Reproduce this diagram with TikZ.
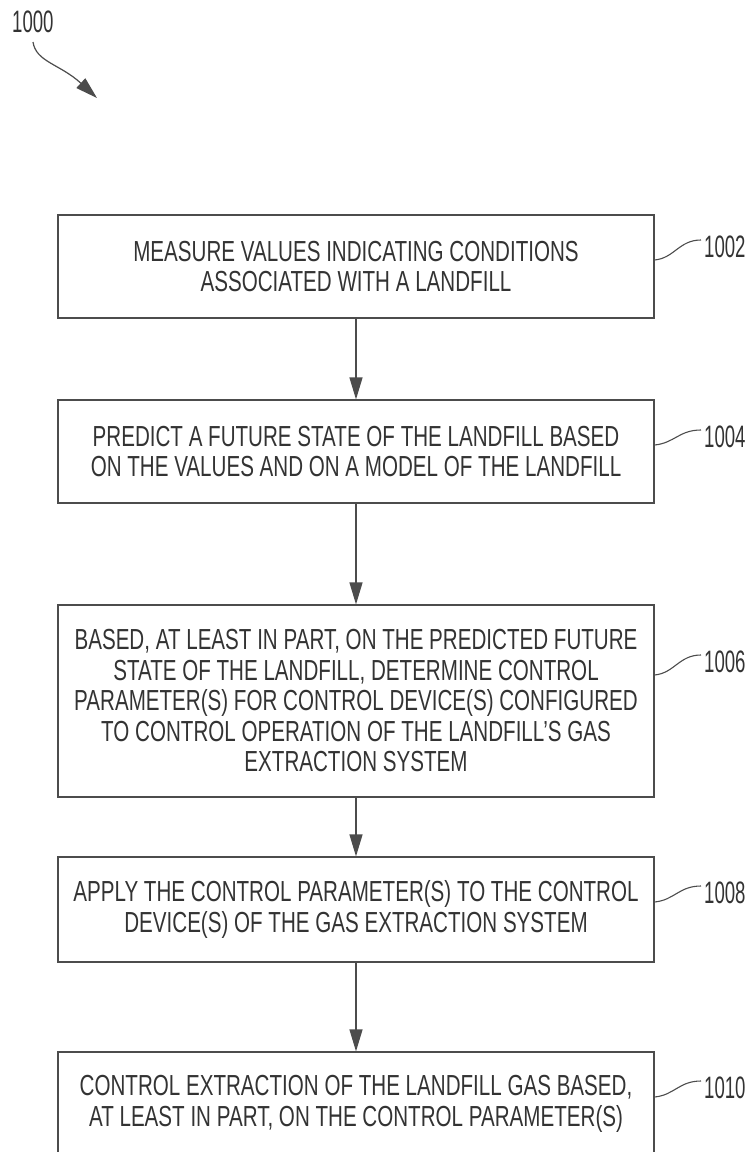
\documentclass[tikz,border=0pt]{standalone}
\usepackage{fontspec}
\setmainfont[FakeStretch=0.71]{Liberation Sans}
\newfontfamily\numfont[FakeStretch=0.60]{Liberation Sans}
\usetikzlibrary{arrows.meta}
\begin{document}
\begin{tikzpicture}[x=1pt,y=-1pt,
  stepbox/.style={draw=black!70, line width=1.2pt, rectangle, minimum width=596pt,
    align=center, inner sep=0pt, font=\fontsize{29}{30.5}\selectfont, text=black!80},
  flow/.style={draw=black!70, line width=1.2pt, -{Triangle[length=22pt,width=13pt]}},
  leader/.style={draw=black!70, line width=1.1pt},
  reflabel/.style={font=\numfont\fontsize{31}{31}\selectfont, text=black!80, anchor=west, inner sep=0pt}]
\useasboundingbox (0,0) rectangle (753,1152);
\clip (0,0) rectangle (753,1152);

% figure label
\node[reflabel] (l1000) at (12,21.5) {1000};
\coordinate (a0) at (33,42);
\coordinate (a1) at (97,98);
\draw[flow] (a0) .. controls (36,62) and (60,64) .. (a1);

% boxes
\node[stepbox, minimum height=103pt] (b1) at (356,266.5)
  {MEASURE VALUES INDICATING CONDITIONS\\ASSOCIATED WITH A LANDFILL};
\node[stepbox, minimum height=103pt] (b2) at (356,451.5)
  {PREDICT A FUTURE STATE OF THE LANDFILL BASED\\ON THE VALUES AND ON A MODEL OF THE LANDFILL};
\node[stepbox, minimum height=192pt] (b3) at (356,701)
  {BASED, AT LEAST IN PART, ON THE PREDICTED FUTURE\\STATE OF THE LANDFILL, DETERMINE CONTROL\\PARAMETER(S) FOR CONTROL DEVICE(S) CONFIGURED\\TO CONTROL OPERATION OF THE LANDFILL’S GAS\\EXTRACTION SYSTEM};
\node[stepbox, minimum height=105pt] (b4) at (356,909.5)
  {APPLY THE CONTROL PARAMETER(S) TO THE CONTROL\\DEVICE(S) OF THE GAS EXTRACTION SYSTEM};
\node[stepbox, minimum height=104pt] (b5) at (356,1104)
  {CONTROL EXTRACTION OF THE LANDFILL GAS BASED,\\AT LEAST IN PART, ON THE CONTROL PARAMETER(S)};

% flow arrows
\draw[flow] (b1) -- (b2);
\draw[flow] (b2) -- (b3);
\draw[flow] (b3) -- (b4);
\draw[flow] (b4) -- (b5);

% reference labels
\node[reflabel] (l1002) at (704,247) {1002};
\node[reflabel] (l1004) at (704,437) {1004};
\node[reflabel] (l1006) at (704,662) {1006};
\node[reflabel] (l1008) at (704,893) {1008};
\node[reflabel] (l1010) at (704,1088) {1010};

\draw[leader] ([yshift=6.5pt]b1.east) .. controls +(20,-2) and +(-22,0) .. ([xshift=-3pt,yshift=7pt]l1002.west);
\draw[leader] ([yshift=6.5pt]b2.east) .. controls +(20,-2) and +(-22,0) .. ([xshift=-3pt,yshift=7pt]l1004.west);
\draw[leader] ([yshift=26pt]b3.east) .. controls +(20,-2) and +(-22,0) .. ([xshift=-3pt,yshift=7pt]l1006.west);
\draw[leader] ([yshift=7.5pt]b4.east) .. controls +(20,-2) and +(-22,0) .. ([xshift=-3pt,yshift=7pt]l1008.west);
\draw[leader] ([yshift=7pt]b5.east) .. controls +(20,-2) and +(-22,0) .. ([xshift=-3pt,yshift=7pt]l1010.west);
\end{tikzpicture}
\end{document}
